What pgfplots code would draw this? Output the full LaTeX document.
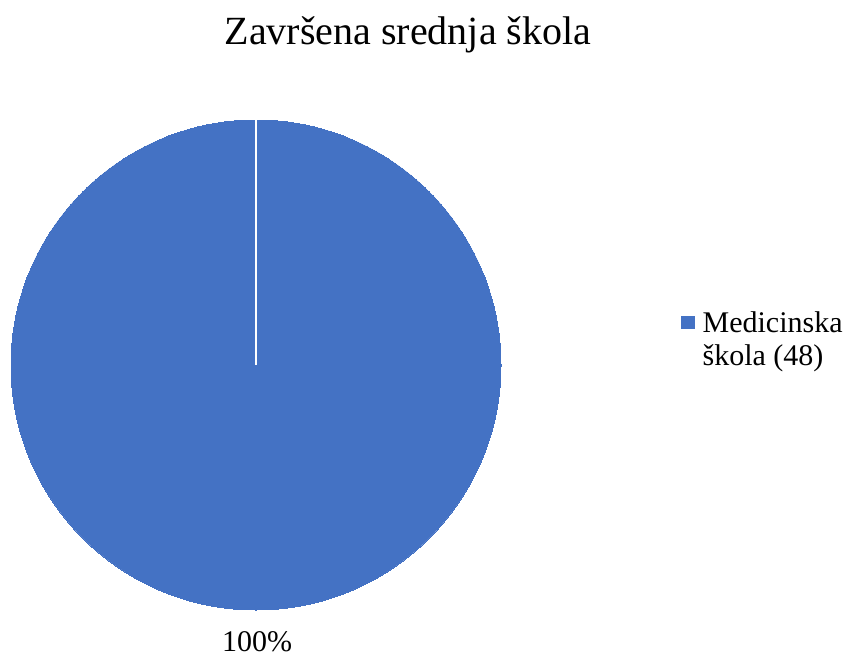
\documentclass[border=0pt]{standalone}
\usepackage{fontspec}
\setmainfont{Liberation Serif}
\usepackage{pgfplots}
\pgfplotsset{compat=1.18}
\definecolor{pieblue}{HTML}{4472C4}
\begin{document}
\begin{tikzpicture}
\begin{axis}[
  hide axis, scale only axis,
  width=856pt, height=659pt,
  xmin=0, xmax=856, ymin=0, ymax=659,
  clip=false, clip mode=individual,
  legend style={at={(axis cs:681,320)}, anchor=west, draw=none, fill=none,
    font=\fontsize{30}{33}\selectfont, cells={align=left, anchor=west},
    inner sep=0pt, row sep=0pt, column sep=6pt},
  legend cell align=left,
]
\path (axis cs:0,0) rectangle (axis cs:856,659);
% single slice: Medicinska škola (48) = 100%
\addplot[only marks, mark=*, mark size=245pt,
  mark options={fill=pieblue, draw=pieblue, line width=0pt},
  legend image code/.code={\fill[pieblue] (0pt,11pt) rectangle (13pt,23pt);}]
  coordinates {(256,294)};
\addlegendentry{Medicinska\\škola (48)}
\addplot[white, line width=2.5pt, forget plot] coordinates {(256,294) (256,540)};
\node[anchor=base, font=\fontsize{40}{48}\selectfont] at (axis cs:408,614) {Završena srednja škola};
\node[anchor=base, font=\fontsize{30}{36}\selectfont] at (axis cs:257,8) {100\%};
\end{axis}
\end{tikzpicture}
\end{document}
